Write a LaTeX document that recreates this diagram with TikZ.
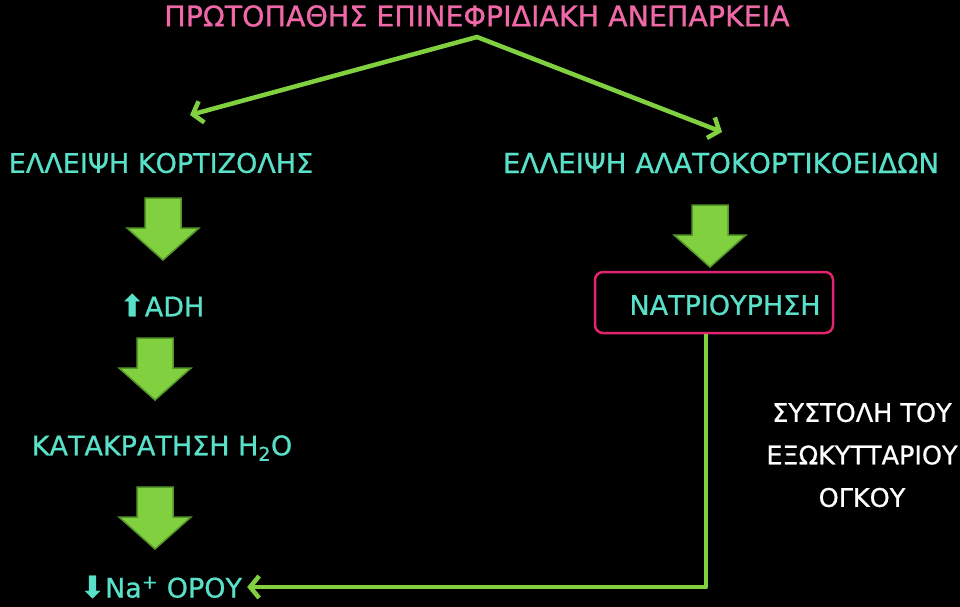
\documentclass[tikz,border=0pt]{standalone}
\usepackage{fontspec}
\setmainfont[FakeBold=0.8]{DejaVu Sans}
\usetikzlibrary{calc,positioning,arrows.meta}

\definecolor{hijau}{RGB}{128,208,64}
\definecolor{hijautua}{RGB}{84,150,40}
\definecolor{tosca}{RGB}{88,224,200}
\definecolor{merahmuda}{RGB}{240,104,168}
\definecolor{magenta}{RGB}{226,36,112}

% panah blok ke bawah, titik = tengah atas
\newcommand{\panah}[1]
	{
	\draw[blok] (#1) ++(-18,0) -- ++(36,0) -- ++(0,30) -- ++(18,0)
		-- ++(-36,32) -- ++(-36,-32) -- ++(18,0) -- cycle;
	}

\tikzset{
	teks/.style={text=tosca, inner sep=0pt, font=\fontsize{27}{32}\selectfont},
	judul/.style={text=merahmuda, inner sep=0pt, font=\fontsize{28.5}{30}\selectfont},
	putih/.style={text=white, align=center, inner sep=0pt, font=\fontsize{25.5}{42.5}\selectfont},
	kotak/.style={draw=magenta, line width=2.5pt, rounded corners=8pt, minimum width=238pt, minimum height=61pt},
	garis/.style={draw=hijau, line width=4.5pt, line cap=round, line join=round, -{Straight Barb[length=9pt,width=22pt]}},
	blok/.style={fill=hijau, draw=hijautua, line width=1.5pt, line join=miter},
}

\begin{document}
\begin{tikzpicture}[x=1pt,y=-1pt]

\fill[black] (0,0) rectangle (960,607);
\useasboundingbox (0,0) rectangle (960,607);

% judul dan dua cabang
\node[judul] (judul) at (477,16) {ΠΡΩΤΟΠΑΘΗΣ ΕΠΙΝΕΦΡΙΔΙΑΚΗ ΑΝΕΠΑΡΚΕΙΑ};
\node[teks] (kort) at (161,163) {ΕΛΛΕΙΨΗ ΚΟΡΤΙΖΟΛΗΣ};
\node[teks, font=\fontsize{27.7}{32}\selectfont] (alat) at (721,163) {ΕΛΛΕΙΨΗ ΑΛΑΤΟΚΟΡΤΙΚΟΕΙΔΩΝ};

\coordinate (puncak) at (477,37);
\coordinate (ujungkiri) at (190,115);
\coordinate (ujungkanan) at (722,132);
\draw[garis] (puncak) -- (ujungkiri);
\draw[garis] (puncak) -- (ujungkanan);

% cabang kiri
\node[teks] (adh) at (162,305) {{\fontsize{30}{32}\selectfont ⬆}ADH};
\node[teks] (h2o) at (162,448) {ΚΑΤΑΚΡΑΤΗΣΗ H\textsubscript{2}O};
\node[teks] (natrium) at (161,587) {{\fontsize{30}{32}\selectfont ⬇}Na\textsuperscript{+} ΟΡΟΥ};

\coordinate (p1) at (163,198);
\coordinate (p2) at (155,338);
\coordinate (p3) at (155,487);
\panah{p1}
\panah{p2}
\panah{p3}

% cabang kanan
\coordinate (p4) at (710,205);
\panah{p4}
\node[kotak] (natr) at (714,302.5) {};
\node[teks] (natrteks) at (725,305) {ΝΑΤΡΙΟΥΡΗΣΗ};

\node[putih] (sustoli) at (862,455) {ΣΥΣΤΟΛΗ ΤΟΥ\\ΕΞΩΚΥΤΤΑΡΙΟΥ\\ΟΓΚΟΥ};

\draw[garis, line cap=butt] ([xshift=-8pt]natr.south) |- ([xshift=5pt]natrium.east);

\end{tikzpicture}
\end{document}
